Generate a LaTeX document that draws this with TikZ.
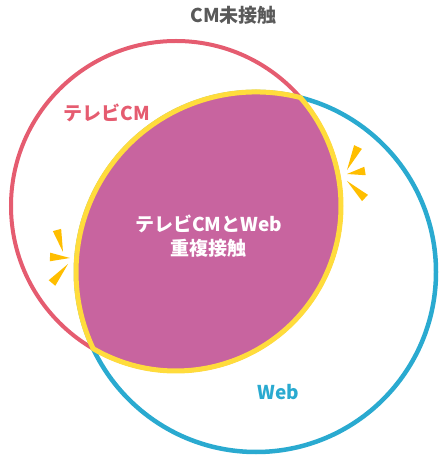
\documentclass[tikz,border=0pt]{standalone}
\usepackage{fontspec}
\newfontfamily\jp{Noto Sans CJK JP}
\usetikzlibrary{calc}
\definecolor{tvred}{HTML}{E55C70}
\definecolor{webblue}{HTML}{2AAAD0}
\definecolor{lensfill}{HTML}{C8649F}
\definecolor{lensedge}{HTML}{FFDC3C}
\definecolor{burst}{HTML}{FFBE00}
\definecolor{greytext}{HTML}{595959}
\begin{document}
\begin{tikzpicture}[x=1pt,y=1pt,
  lbl/.style={font=\jp\bfseries\fontsize{19}{22}\selectfont, inner sep=0pt},
  tvring/.style={draw=tvred, line width=4pt},
  webring/.style={draw=webblue, line width=4.5pt},
  lens/.style={fill=lensfill, draw=lensedge, line width=5pt, line join=round},
  burstfill/.style={fill=burst}]
\useasboundingbox (0,0) rectangle (439,466);
\coordinate (tvc) at (176,260);
\coordinate (webc) at (256,194);
\coordinate (ptop) at (300.4,368.45);
\path[tvring] (tvc) circle[radius=165];
\path[webring] (webc) circle[radius=180];
\path[lens] (ptop) arc[start angle=75.72, end angle=205.22, radius=180]
  arc[start angle=-120.13, end angle=41.08, radius=165] -- cycle;
% burst wedges: tip, outer
\foreach \tx/\ty/\ox/\oy in {347/296/358/319, 347/292/365/295, 347/285/365/268,
                            63/214/57/236, 70/208/50/209, 68/202/52/183}{
  \coordinate (t) at (\tx,\ty);
  \coordinate (o) at (\ox,\oy);
  \path[burstfill] ($(o)!4.3pt!90:(t)$) -- (t) -- ($(o)!4.3pt!-90:(t)$) -- cycle;
}
\node[lbl, text=greytext] (cmnone) at (233.5,451) {CM未接触};
\node[lbl, text=tvred] (tvlabel) at (106.5,353.5) {テレビCM};
\node[lbl, text=white] (both1) at (208.5,242.5) {テレビCMとWeb};
\node[lbl, text=white] (both2) at (208.5,217.5) {重複接触};
\node[lbl, text=webblue] (weblabel) at (278.5,73.5) {Web};
\end{tikzpicture}
\end{document}
